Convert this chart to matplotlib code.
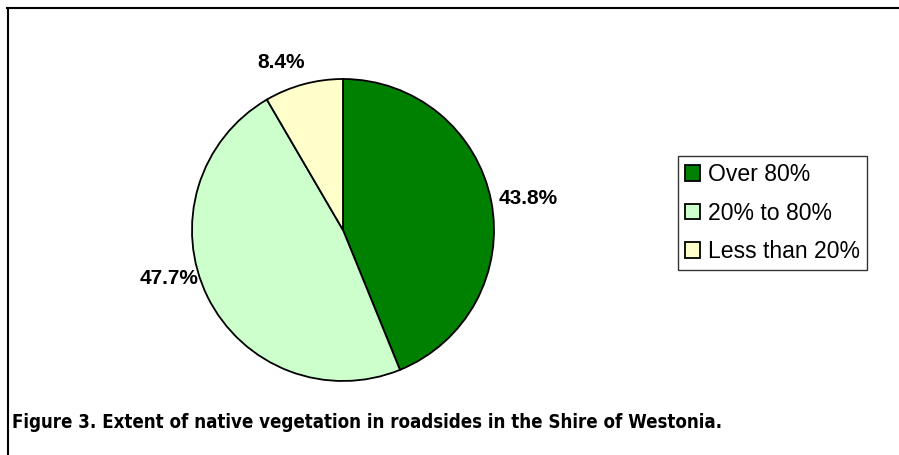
import os
import matplotlib.pyplot as plt
from matplotlib import font_manager
from matplotlib.lines import Line2D

# data
labels = ["Over 80%", "20% to 80%", "Less than 20%"]
values = [43.8, 47.7, 8.4]
colors = ["#008000", "#CCFFCC", "#FFFFCC"]
caption = "Figure 3. Extent of native vegetation in roadsides in the Shire of Westonia."
# label positions in pie units (radius = 1), as Excel placed them
label_xy = [(1.225, 0.21), (-1.15, -0.32), (-0.41, 1.11)]


def font_file(base):
    # pick the Arial-like file directly, avoid the Narrow variant
    for f in font_manager.fontManager.ttflist:
        if os.path.basename(f.fname) == base:
            return f.fname
    return None


reg = font_file("LiberationSans-Regular.ttf")
bold = font_file("LiberationSans-Bold.ttf")
fp_leg = font_manager.FontProperties(fname=reg, size=16.6) if reg else \
    font_manager.FontProperties(family="DejaVu Sans", size=15)
fp_pct = font_manager.FontProperties(fname=bold, size=15) if bold else \
    font_manager.FontProperties(family="DejaVu Sans", weight="bold", size=13.5)

W, H = 899, 455
fig = plt.figure(figsize=(W / 100, H / 100), dpi=100)

# pie axes, centre ~ (343, 230) px, radius ~151 px
r = 151
ax = fig.add_axes([(343 - r) / W, (H - 230 - r) / H, 2 * r / W, 2 * r / H])
wedges, texts, autotexts = ax.pie(
    values, colors=colors, startangle=90, counterclock=False,
    autopct="%.1f%%", pctdistance=1.2, radius=1,
    wedgeprops=dict(edgecolor="black", linewidth=1.3),
)
for t, xy in zip(autotexts, label_xy):
    t.set_position(xy)
    t.set_fontproperties(fp_pct)
ax.set_xlim(-1, 1)
ax.set_ylim(-1, 1)
ax.set_aspect("equal")
ax.axis("off")

# legend
leg = fig.legend(
    wedges, labels, loc="upper left",
    bbox_to_anchor=(678 / W, 1 - 156 / H),
    prop=fp_leg,
    frameon=True, fancybox=False, shadow=False,
    handlelength=0.65, handleheight=0.65, handletextpad=0.35,
    labelspacing=0.68, borderpad=0.3, borderaxespad=0,
)
leg.get_frame().set_edgecolor("black")
leg.get_frame().set_linewidth(1.0)

# caption
fig.text(12 / W, 1 - 423 / H, caption, fontsize=13.4, fontweight="bold",
         family="DejaVu Sans", fontstretch="condensed", va="center", ha="left")

# outer frame (top and left only)
fig.add_artist(Line2D([7 / W, 1], [1 - 7.5 / H, 1 - 7.5 / H], color="black", lw=1.5))
fig.add_artist(Line2D([7.5 / W, 7.5 / W], [0, 1 - 7.5 / H], color="black", lw=1.5))

fig.savefig("out.png", dpi=100)
